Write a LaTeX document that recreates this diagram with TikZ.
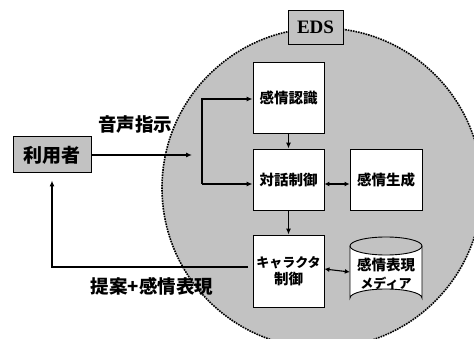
\documentclass[tikz,border=0pt]{standalone}
\usepackage{fontspec}
\setmainfont{Noto Sans CJK JP}
\newfontfamily\serifeds{Liberation Serif}
\usetikzlibrary{arrows.meta}
\definecolor{halftone}{gray}{0.76}
\begin{document}
\begin{tikzpicture}[x=1pt,y=-1pt,
  arr/.style={-{Latex[length=6pt,width=5pt]},line width=1.1pt},
  darr/.style={{Latex[length=5pt,width=5pt]}-{Latex[length=5pt,width=5pt]},line width=1.1pt},
  blk/.style={draw,line width=0.9pt,fill=white,inner sep=0pt,font=\fontsize{14.5}{17}\selectfont\bfseries,align=center},
  lbl/.style={inner sep=0pt,font=\fontsize{18.5}{20}\selectfont\bfseries}]
\useasboundingbox (0,0) rectangle (474,339);
% EDS region
\fill[halftone] (322,188) circle[radius=160];
\draw[line width=1.6pt,densely dotted] (322,188) circle[radius=160];
\node[draw,line width=0.9pt,fill=halftone,minimum width=55pt,minimum height=34pt,inner sep=0pt,font=\serifeds\fontsize{19}{20}\selectfont\bfseries] (eds) at (315.5,27) {EDS};
% blocks
\node[blk,minimum width=71pt,minimum height=71pt] (rec) at (288.5,97.5) {感情認識};
\node[blk,minimum width=71pt,minimum height=61pt] (dia) at (288.5,179.5) {対話制御};
\node[blk,minimum width=72pt,minimum height=61pt] (gen) at (386,179.5) {感情生成};
\node[blk,minimum width=71pt,minimum height=72pt] (chr) at (288.5,271) {{\fontsize{13}{17}\selectfont キャラクタ}\\制御};
% cylinder
\fill[white] (350,246) -- (350,298) arc[start angle=180,end angle=360,x radius=36,y radius=9] -- (422,246) arc[start angle=0,end angle=180,x radius=36,y radius=9] -- cycle;
\draw[line width=0.9pt] (350,246) -- (350,298) arc[start angle=180,end angle=360,x radius=36,y radius=9] -- (422,246);
\draw[line width=0.9pt] (386,246) ellipse[x radius=36,y radius=9];
\node[inner sep=0pt,minimum width=72pt,minimum height=70pt,align=center,font=\fontsize{14.5}{18}\selectfont\bfseries] (med) at (386,274) {感情表現\\{\fontsize{13}{18}\selectfont メディア}};
% user
\node[draw,line width=1pt,fill=halftone,minimum width=78pt,minimum height=36pt,inner sep=0pt,font=\fontsize{19}{20}\selectfont\bfseries] (usr) at (52,155) {利用者};
% connectors
\coordinate (in) at (192,155);
\coordinate (b1) at (202,99);
\coordinate (b2) at (202,184);
\coordinate (f1) at (248,267);
\draw[arr] (usr.east) -- (in);
\draw[arr] (b2) -- (b1) -- (rec.west |- b1);
\draw[arr] (b2) -- (dia.west |- b2);
\draw[arr] (rec.south) -- (dia.north);
\draw[arr] (dia.south) -- (chr.north);
\draw[darr] (dia.east |- b2) -- (gen.west |- b2);
\draw[darr] ([yshift=2pt]chr.east) -- ([yshift=2pt]med.west);
\draw[arr,shorten >=7pt] (f1) -| (usr.south);
% labels
\node[lbl] (l1) at (135,125) {音声指示};
\node[lbl] (l2) at (152,286) {提案+感情表現};
\end{tikzpicture}
\end{document}
